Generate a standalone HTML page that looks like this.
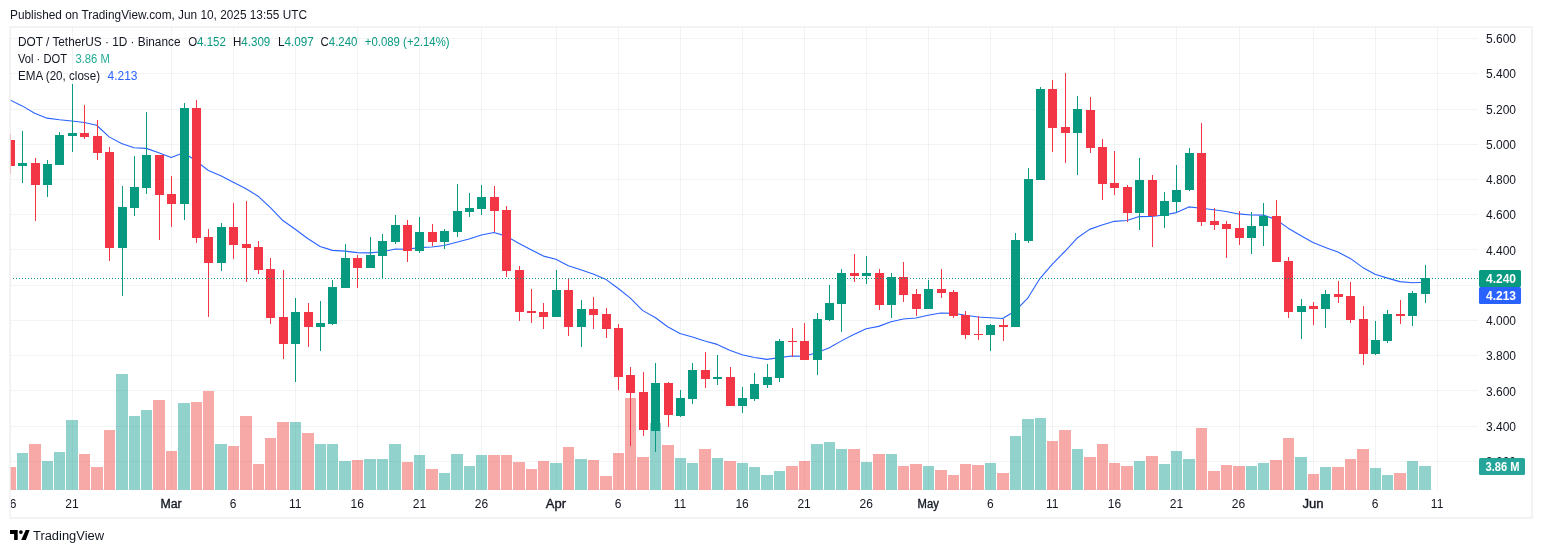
<!DOCTYPE html><html><head><meta charset="utf-8"><style>html,body{margin:0;padding:0;background:#fff;width:1542px;height:553px;overflow:hidden}svg{display:block;will-change:transform}text{font-family:"Liberation Sans", sans-serif}</style></head><body><svg width="1542" height="553" viewBox="0 0 1542 553"><text x="10" y="18.6" font-size="12" fill="#131722" textLength="297" lengthAdjust="spacingAndGlyphs">Published on TradingView.com, Jun 10, 2025 13:55 UTC</text><defs><clipPath id="pane"><rect x="10" y="28" width="1468" height="462"/></clipPath></defs><g shape-rendering="crispEdges"><rect x="10" y="38" width="1468" height="1" fill="rgba(42,46,57,0.06)"/><rect x="10" y="73" width="1468" height="1" fill="rgba(42,46,57,0.06)"/><rect x="10" y="109" width="1468" height="1" fill="rgba(42,46,57,0.06)"/><rect x="10" y="144" width="1468" height="1" fill="rgba(42,46,57,0.06)"/><rect x="10" y="179" width="1468" height="1" fill="rgba(42,46,57,0.06)"/><rect x="10" y="214" width="1468" height="1" fill="rgba(42,46,57,0.06)"/><rect x="10" y="249" width="1468" height="1" fill="rgba(42,46,57,0.06)"/><rect x="10" y="285" width="1468" height="1" fill="rgba(42,46,57,0.06)"/><rect x="10" y="320" width="1468" height="1" fill="rgba(42,46,57,0.06)"/><rect x="10" y="355" width="1468" height="1" fill="rgba(42,46,57,0.06)"/><rect x="10" y="390" width="1468" height="1" fill="rgba(42,46,57,0.06)"/><rect x="10" y="426" width="1468" height="1" fill="rgba(42,46,57,0.06)"/><rect x="10" y="461" width="1468" height="1" fill="rgba(42,46,57,0.06)"/><rect x="10" y="28" width="1" height="462" fill="rgba(42,46,57,0.06)"/><rect x="72" y="28" width="1" height="462" fill="rgba(42,46,57,0.06)"/><rect x="171" y="28" width="1" height="462" fill="rgba(42,46,57,0.06)"/><rect x="233" y="28" width="1" height="462" fill="rgba(42,46,57,0.06)"/><rect x="295" y="28" width="1" height="462" fill="rgba(42,46,57,0.06)"/><rect x="357" y="28" width="1" height="462" fill="rgba(42,46,57,0.06)"/><rect x="419" y="28" width="1" height="462" fill="rgba(42,46,57,0.06)"/><rect x="481" y="28" width="1" height="462" fill="rgba(42,46,57,0.06)"/><rect x="556" y="28" width="1" height="462" fill="rgba(42,46,57,0.06)"/><rect x="618" y="28" width="1" height="462" fill="rgba(42,46,57,0.06)"/><rect x="680" y="28" width="1" height="462" fill="rgba(42,46,57,0.06)"/><rect x="742" y="28" width="1" height="462" fill="rgba(42,46,57,0.06)"/><rect x="804" y="28" width="1" height="462" fill="rgba(42,46,57,0.06)"/><rect x="866" y="28" width="1" height="462" fill="rgba(42,46,57,0.06)"/><rect x="928" y="28" width="1" height="462" fill="rgba(42,46,57,0.06)"/><rect x="990" y="28" width="1" height="462" fill="rgba(42,46,57,0.06)"/><rect x="1052" y="28" width="1" height="462" fill="rgba(42,46,57,0.06)"/><rect x="1114" y="28" width="1" height="462" fill="rgba(42,46,57,0.06)"/><rect x="1176" y="28" width="1" height="462" fill="rgba(42,46,57,0.06)"/><rect x="1239" y="28" width="1" height="462" fill="rgba(42,46,57,0.06)"/><rect x="1313" y="28" width="1" height="462" fill="rgba(42,46,57,0.06)"/><rect x="1375" y="28" width="1" height="462" fill="rgba(42,46,57,0.06)"/><rect x="1437" y="28" width="1" height="462" fill="rgba(42,46,57,0.06)"/></g><g clip-path="url(#pane)" shape-rendering="crispEdges"><rect x="5" y="467" width="11" height="23" fill="rgba(239,83,80,0.5)"/><rect x="17" y="453" width="11" height="37" fill="rgba(38,166,154,0.5)"/><rect x="29" y="444" width="12" height="46" fill="rgba(239,83,80,0.5)"/><rect x="42" y="461" width="11" height="29" fill="rgba(38,166,154,0.5)"/><rect x="54" y="452" width="11" height="38" fill="rgba(38,166,154,0.5)"/><rect x="66" y="420" width="12" height="70" fill="rgba(38,166,154,0.5)"/><rect x="79" y="454" width="11" height="36" fill="rgba(239,83,80,0.5)"/><rect x="91" y="467" width="12" height="23" fill="rgba(239,83,80,0.5)"/><rect x="104" y="430" width="11" height="60" fill="rgba(239,83,80,0.5)"/><rect x="116" y="374" width="12" height="116" fill="rgba(38,166,154,0.5)"/><rect x="129" y="416" width="11" height="74" fill="rgba(38,166,154,0.5)"/><rect x="141" y="410" width="11" height="80" fill="rgba(38,166,154,0.5)"/><rect x="153" y="400" width="12" height="90" fill="rgba(239,83,80,0.5)"/><rect x="166" y="451" width="11" height="39" fill="rgba(239,83,80,0.5)"/><rect x="178" y="403" width="12" height="87" fill="rgba(38,166,154,0.5)"/><rect x="191" y="402" width="11" height="88" fill="rgba(239,83,80,0.5)"/><rect x="203" y="391" width="11" height="99" fill="rgba(239,83,80,0.5)"/><rect x="215" y="444" width="12" height="46" fill="rgba(38,166,154,0.5)"/><rect x="228" y="446" width="11" height="44" fill="rgba(239,83,80,0.5)"/><rect x="240" y="416" width="12" height="74" fill="rgba(239,83,80,0.5)"/><rect x="253" y="464" width="11" height="26" fill="rgba(239,83,80,0.5)"/><rect x="265" y="438" width="11" height="52" fill="rgba(239,83,80,0.5)"/><rect x="277" y="422" width="12" height="68" fill="rgba(239,83,80,0.5)"/><rect x="290" y="422" width="11" height="68" fill="rgba(38,166,154,0.5)"/><rect x="302" y="433" width="12" height="57" fill="rgba(239,83,80,0.5)"/><rect x="315" y="444" width="11" height="46" fill="rgba(38,166,154,0.5)"/><rect x="327" y="444" width="11" height="46" fill="rgba(38,166,154,0.5)"/><rect x="339" y="461" width="12" height="29" fill="rgba(38,166,154,0.5)"/><rect x="352" y="460" width="11" height="30" fill="rgba(239,83,80,0.5)"/><rect x="364" y="459" width="12" height="31" fill="rgba(38,166,154,0.5)"/><rect x="377" y="459" width="11" height="31" fill="rgba(38,166,154,0.5)"/><rect x="389" y="444" width="12" height="46" fill="rgba(38,166,154,0.5)"/><rect x="402" y="462" width="11" height="28" fill="rgba(239,83,80,0.5)"/><rect x="414" y="455" width="11" height="35" fill="rgba(38,166,154,0.5)"/><rect x="426" y="469" width="12" height="21" fill="rgba(239,83,80,0.5)"/><rect x="439" y="473" width="11" height="17" fill="rgba(38,166,154,0.5)"/><rect x="451" y="454" width="12" height="36" fill="rgba(38,166,154,0.5)"/><rect x="464" y="466" width="11" height="24" fill="rgba(38,166,154,0.5)"/><rect x="476" y="455" width="11" height="35" fill="rgba(38,166,154,0.5)"/><rect x="488" y="455" width="12" height="35" fill="rgba(239,83,80,0.5)"/><rect x="501" y="455" width="11" height="35" fill="rgba(239,83,80,0.5)"/><rect x="513" y="462" width="12" height="28" fill="rgba(239,83,80,0.5)"/><rect x="526" y="469" width="11" height="21" fill="rgba(239,83,80,0.5)"/><rect x="538" y="461" width="11" height="29" fill="rgba(239,83,80,0.5)"/><rect x="550" y="463" width="12" height="27" fill="rgba(38,166,154,0.5)"/><rect x="563" y="447" width="11" height="43" fill="rgba(239,83,80,0.5)"/><rect x="575" y="459" width="12" height="31" fill="rgba(38,166,154,0.5)"/><rect x="588" y="460" width="11" height="30" fill="rgba(239,83,80,0.5)"/><rect x="600" y="476" width="12" height="14" fill="rgba(239,83,80,0.5)"/><rect x="613" y="453" width="11" height="37" fill="rgba(239,83,80,0.5)"/><rect x="625" y="398" width="11" height="92" fill="rgba(239,83,80,0.5)"/><rect x="637" y="457" width="12" height="33" fill="rgba(239,83,80,0.5)"/><rect x="650" y="423" width="11" height="67" fill="rgba(38,166,154,0.5)"/><rect x="662" y="445" width="12" height="45" fill="rgba(239,83,80,0.5)"/><rect x="675" y="458" width="11" height="32" fill="rgba(38,166,154,0.5)"/><rect x="687" y="463" width="11" height="27" fill="rgba(38,166,154,0.5)"/><rect x="699" y="449" width="12" height="41" fill="rgba(239,83,80,0.5)"/><rect x="712" y="458" width="11" height="32" fill="rgba(38,166,154,0.5)"/><rect x="724" y="461" width="12" height="29" fill="rgba(239,83,80,0.5)"/><rect x="737" y="463" width="11" height="27" fill="rgba(38,166,154,0.5)"/><rect x="749" y="467" width="11" height="23" fill="rgba(38,166,154,0.5)"/><rect x="761" y="475" width="12" height="15" fill="rgba(38,166,154,0.5)"/><rect x="774" y="471" width="11" height="19" fill="rgba(38,166,154,0.5)"/><rect x="786" y="466" width="12" height="24" fill="rgba(239,83,80,0.5)"/><rect x="799" y="461" width="11" height="29" fill="rgba(239,83,80,0.5)"/><rect x="811" y="444" width="12" height="46" fill="rgba(38,166,154,0.5)"/><rect x="824" y="442" width="11" height="48" fill="rgba(38,166,154,0.5)"/><rect x="836" y="449" width="11" height="41" fill="rgba(38,166,154,0.5)"/><rect x="848" y="449" width="12" height="41" fill="rgba(239,83,80,0.5)"/><rect x="861" y="462" width="11" height="28" fill="rgba(38,166,154,0.5)"/><rect x="873" y="454" width="12" height="36" fill="rgba(239,83,80,0.5)"/><rect x="886" y="454" width="11" height="36" fill="rgba(38,166,154,0.5)"/><rect x="898" y="466" width="11" height="24" fill="rgba(239,83,80,0.5)"/><rect x="910" y="464" width="12" height="26" fill="rgba(239,83,80,0.5)"/><rect x="923" y="466" width="11" height="24" fill="rgba(38,166,154,0.5)"/><rect x="935" y="470" width="12" height="20" fill="rgba(239,83,80,0.5)"/><rect x="948" y="475" width="11" height="15" fill="rgba(239,83,80,0.5)"/><rect x="960" y="464" width="11" height="26" fill="rgba(239,83,80,0.5)"/><rect x="972" y="465" width="12" height="25" fill="rgba(239,83,80,0.5)"/><rect x="985" y="463" width="11" height="27" fill="rgba(38,166,154,0.5)"/><rect x="997" y="473" width="12" height="17" fill="rgba(239,83,80,0.5)"/><rect x="1010" y="436" width="11" height="54" fill="rgba(38,166,154,0.5)"/><rect x="1022" y="419" width="12" height="71" fill="rgba(38,166,154,0.5)"/><rect x="1035" y="418" width="11" height="72" fill="rgba(38,166,154,0.5)"/><rect x="1047" y="441" width="11" height="49" fill="rgba(239,83,80,0.5)"/><rect x="1059" y="430" width="12" height="60" fill="rgba(239,83,80,0.5)"/><rect x="1072" y="449" width="11" height="41" fill="rgba(38,166,154,0.5)"/><rect x="1084" y="457" width="12" height="33" fill="rgba(239,83,80,0.5)"/><rect x="1097" y="444" width="11" height="46" fill="rgba(239,83,80,0.5)"/><rect x="1109" y="463" width="11" height="27" fill="rgba(239,83,80,0.5)"/><rect x="1121" y="466" width="12" height="24" fill="rgba(239,83,80,0.5)"/><rect x="1134" y="461" width="11" height="29" fill="rgba(38,166,154,0.5)"/><rect x="1146" y="456" width="12" height="34" fill="rgba(239,83,80,0.5)"/><rect x="1159" y="464" width="11" height="26" fill="rgba(38,166,154,0.5)"/><rect x="1171" y="451" width="11" height="39" fill="rgba(38,166,154,0.5)"/><rect x="1183" y="459" width="12" height="31" fill="rgba(38,166,154,0.5)"/><rect x="1196" y="428" width="11" height="62" fill="rgba(239,83,80,0.5)"/><rect x="1208" y="471" width="12" height="19" fill="rgba(239,83,80,0.5)"/><rect x="1221" y="465" width="11" height="25" fill="rgba(239,83,80,0.5)"/><rect x="1233" y="466" width="12" height="24" fill="rgba(239,83,80,0.5)"/><rect x="1246" y="466" width="11" height="24" fill="rgba(38,166,154,0.5)"/><rect x="1258" y="463" width="11" height="27" fill="rgba(38,166,154,0.5)"/><rect x="1270" y="460" width="12" height="30" fill="rgba(239,83,80,0.5)"/><rect x="1283" y="438" width="11" height="52" fill="rgba(239,83,80,0.5)"/><rect x="1295" y="457" width="12" height="33" fill="rgba(38,166,154,0.5)"/><rect x="1308" y="474" width="11" height="16" fill="rgba(239,83,80,0.5)"/><rect x="1320" y="467" width="11" height="23" fill="rgba(38,166,154,0.5)"/><rect x="1332" y="467" width="12" height="23" fill="rgba(239,83,80,0.5)"/><rect x="1345" y="459" width="11" height="31" fill="rgba(239,83,80,0.5)"/><rect x="1357" y="449" width="12" height="41" fill="rgba(239,83,80,0.5)"/><rect x="1370" y="468" width="11" height="22" fill="rgba(38,166,154,0.5)"/><rect x="1382" y="475" width="11" height="15" fill="rgba(38,166,154,0.5)"/><rect x="1394" y="473" width="12" height="17" fill="rgba(239,83,80,0.5)"/><rect x="1407" y="461" width="11" height="29" fill="rgba(38,166,154,0.5)"/><rect x="1419" y="466" width="12" height="24" fill="rgba(38,166,154,0.5)"/></g><g clip-path="url(#pane)"><polyline points="9.80,99.89 22.22,105.90 34.63,113.34 47.04,118.17 59.45,119.77 71.86,121.03 84.27,122.45 96.68,125.27 109.09,136.86 121.50,143.54 133.92,147.68 146.33,148.38 158.74,152.72 171.15,157.51 183.56,152.80 195.97,160.82 208.38,170.45 220.79,175.84 233.21,182.33 245.62,188.49 258.03,196.16 270.44,207.66 282.85,220.55 295.26,229.26 307.67,238.48 320.08,246.53 332.50,250.38 344.91,251.11 357.32,252.62 369.73,252.85 382.14,251.72 394.55,249.17 406.96,249.25 419.37,247.61 431.78,246.98 444.20,245.46 456.61,242.18 469.02,238.92 481.43,234.93 493.84,232.55 506.25,236.12 518.66,243.25 531.07,249.80 543.49,256.10 555.90,259.33 568.31,265.68 580.72,269.81 593.13,274.02 605.54,279.16 617.95,288.29 630.36,298.16 642.78,310.62 655.19,317.52 667.60,326.80 680.01,333.58 692.42,337.05 704.83,340.95 717.24,344.38 729.65,350.16 742.06,354.71 754.48,357.50 766.89,359.36 779.30,357.61 791.71,356.03 804.12,356.31 816.53,352.76 828.94,348.02 841.35,340.87 853.77,334.60 866.18,328.73 878.59,326.38 891.00,321.68 903.41,319.04 915.82,317.99 928.23,315.23 940.64,313.02 953.06,313.20 965.47,315.19 977.88,316.98 990.29,317.74 1002.70,318.53 1015.11,311.05 1027.52,298.47 1039.93,278.52 1052.34,264.09 1064.76,251.51 1077.17,238.03 1089.58,229.36 1101.99,224.95 1114.40,221.33 1126.81,220.45 1139.22,216.59 1151.63,216.44 1164.05,214.97 1176.46,212.59 1188.87,206.92 1201.28,208.26 1213.69,209.76 1226.10,211.50 1238.51,213.92 1250.92,214.98 1263.34,215.08 1275.75,219.45 1288.16,228.17 1300.57,235.58 1312.98,242.48 1325.39,247.39 1337.80,252.02 1350.21,258.39 1362.62,267.40 1375.04,274.32 1387.45,278.10 1399.86,281.61 1412.27,282.70 1424.68,282.25" fill="none" stroke="#2962ff" stroke-width="1.1" stroke-linejoin="round"/></g><g clip-path="url(#pane)" shape-rendering="crispEdges"><rect x="10" y="134" width="1" height="40" fill="#f23645"/><rect x="6" y="140" width="9" height="26" fill="#f23645"/><rect x="22" y="131" width="1" height="52" fill="#089981"/><rect x="18" y="163" width="9" height="3" fill="#089981"/><rect x="35" y="158" width="1" height="63" fill="#f23645"/><rect x="31" y="163" width="9" height="22" fill="#f23645"/><rect x="47" y="160" width="1" height="37" fill="#089981"/><rect x="43" y="164" width="9" height="21" fill="#089981"/><rect x="59" y="132" width="1" height="33" fill="#089981"/><rect x="55" y="135" width="9" height="30" fill="#089981"/><rect x="72" y="84" width="1" height="68" fill="#089981"/><rect x="68" y="133" width="9" height="3" fill="#089981"/><rect x="84" y="105" width="1" height="34" fill="#f23645"/><rect x="80" y="133" width="9" height="4" fill="#f23645"/><rect x="97" y="120" width="1" height="40" fill="#f23645"/><rect x="93" y="136" width="9" height="17" fill="#f23645"/><rect x="109" y="147" width="1" height="114" fill="#f23645"/><rect x="105" y="152" width="9" height="96" fill="#f23645"/><rect x="122" y="186" width="1" height="110" fill="#089981"/><rect x="118" y="207" width="9" height="41" fill="#089981"/><rect x="134" y="156" width="1" height="60" fill="#089981"/><rect x="130" y="187" width="9" height="21" fill="#089981"/><rect x="146" y="112" width="1" height="82" fill="#089981"/><rect x="142" y="155" width="9" height="33" fill="#089981"/><rect x="159" y="155" width="1" height="85" fill="#f23645"/><rect x="155" y="155" width="9" height="40" fill="#f23645"/><rect x="171" y="176" width="1" height="51" fill="#f23645"/><rect x="167" y="194" width="9" height="10" fill="#f23645"/><rect x="184" y="103" width="1" height="117" fill="#089981"/><rect x="180" y="108" width="9" height="96" fill="#089981"/><rect x="196" y="100" width="1" height="143" fill="#f23645"/><rect x="192" y="108" width="9" height="130" fill="#f23645"/><rect x="208" y="229" width="1" height="88" fill="#f23645"/><rect x="204" y="237" width="9" height="26" fill="#f23645"/><rect x="221" y="223" width="1" height="48" fill="#089981"/><rect x="217" y="227" width="9" height="36" fill="#089981"/><rect x="233" y="203" width="1" height="56" fill="#f23645"/><rect x="229" y="227" width="9" height="18" fill="#f23645"/><rect x="246" y="201" width="1" height="81" fill="#f23645"/><rect x="242" y="244" width="9" height="4" fill="#f23645"/><rect x="258" y="241" width="1" height="33" fill="#f23645"/><rect x="254" y="247" width="9" height="23" fill="#f23645"/><rect x="270" y="258" width="1" height="66" fill="#f23645"/><rect x="266" y="269" width="9" height="49" fill="#f23645"/><rect x="283" y="270" width="1" height="89" fill="#f23645"/><rect x="279" y="317" width="9" height="27" fill="#f23645"/><rect x="295" y="298" width="1" height="84" fill="#089981"/><rect x="291" y="312" width="9" height="32" fill="#089981"/><rect x="308" y="303" width="1" height="44" fill="#f23645"/><rect x="304" y="312" width="9" height="15" fill="#f23645"/><rect x="320" y="301" width="1" height="50" fill="#089981"/><rect x="316" y="323" width="9" height="4" fill="#089981"/><rect x="332" y="280" width="1" height="45" fill="#089981"/><rect x="328" y="287" width="9" height="37" fill="#089981"/><rect x="345" y="244" width="1" height="44" fill="#089981"/><rect x="341" y="258" width="9" height="30" fill="#089981"/><rect x="357" y="255" width="1" height="33" fill="#f23645"/><rect x="353" y="258" width="9" height="10" fill="#f23645"/><rect x="370" y="237" width="1" height="31" fill="#089981"/><rect x="366" y="255" width="9" height="13" fill="#089981"/><rect x="382" y="234" width="1" height="45" fill="#089981"/><rect x="378" y="241" width="9" height="15" fill="#089981"/><rect x="395" y="215" width="1" height="29" fill="#089981"/><rect x="391" y="225" width="9" height="17" fill="#089981"/><rect x="407" y="220" width="1" height="42" fill="#f23645"/><rect x="403" y="225" width="9" height="26" fill="#f23645"/><rect x="419" y="217" width="1" height="36" fill="#089981"/><rect x="415" y="232" width="9" height="19" fill="#089981"/><rect x="432" y="224" width="1" height="22" fill="#f23645"/><rect x="428" y="232" width="9" height="10" fill="#f23645"/><rect x="444" y="229" width="1" height="20" fill="#089981"/><rect x="440" y="231" width="9" height="11" fill="#089981"/><rect x="457" y="184" width="1" height="53" fill="#089981"/><rect x="453" y="211" width="9" height="21" fill="#089981"/><rect x="469" y="193" width="1" height="24" fill="#089981"/><rect x="465" y="208" width="9" height="4" fill="#089981"/><rect x="481" y="185" width="1" height="30" fill="#089981"/><rect x="477" y="197" width="9" height="12" fill="#089981"/><rect x="494" y="186" width="1" height="46" fill="#f23645"/><rect x="490" y="197" width="9" height="14" fill="#f23645"/><rect x="506" y="206" width="1" height="71" fill="#f23645"/><rect x="502" y="210" width="9" height="61" fill="#f23645"/><rect x="519" y="266" width="1" height="55" fill="#f23645"/><rect x="515" y="270" width="9" height="42" fill="#f23645"/><rect x="531" y="289" width="1" height="34" fill="#f23645"/><rect x="527" y="311" width="9" height="2" fill="#f23645"/><rect x="543" y="303" width="1" height="26" fill="#f23645"/><rect x="539" y="312" width="9" height="5" fill="#f23645"/><rect x="556" y="270" width="1" height="47" fill="#089981"/><rect x="552" y="290" width="9" height="27" fill="#089981"/><rect x="568" y="278" width="1" height="58" fill="#f23645"/><rect x="564" y="290" width="9" height="37" fill="#f23645"/><rect x="581" y="300" width="1" height="47" fill="#089981"/><rect x="577" y="309" width="9" height="18" fill="#089981"/><rect x="593" y="297" width="1" height="32" fill="#f23645"/><rect x="589" y="309" width="9" height="6" fill="#f23645"/><rect x="606" y="308" width="1" height="30" fill="#f23645"/><rect x="602" y="314" width="9" height="15" fill="#f23645"/><rect x="618" y="324" width="1" height="66" fill="#f23645"/><rect x="614" y="328" width="9" height="49" fill="#f23645"/><rect x="630" y="367" width="1" height="79" fill="#f23645"/><rect x="626" y="375" width="9" height="18" fill="#f23645"/><rect x="643" y="372" width="1" height="64" fill="#f23645"/><rect x="639" y="392" width="9" height="38" fill="#f23645"/><rect x="655" y="363" width="1" height="89" fill="#089981"/><rect x="651" y="383" width="9" height="48" fill="#089981"/><rect x="668" y="382" width="1" height="45" fill="#f23645"/><rect x="664" y="383" width="9" height="32" fill="#f23645"/><rect x="680" y="390" width="1" height="27" fill="#089981"/><rect x="676" y="398" width="9" height="18" fill="#089981"/><rect x="692" y="363" width="1" height="41" fill="#089981"/><rect x="688" y="370" width="9" height="29" fill="#089981"/><rect x="705" y="352" width="1" height="36" fill="#f23645"/><rect x="701" y="370" width="9" height="9" fill="#f23645"/><rect x="717" y="355" width="1" height="30" fill="#089981"/><rect x="713" y="377" width="9" height="2" fill="#089981"/><rect x="730" y="367" width="1" height="39" fill="#f23645"/><rect x="726" y="377" width="9" height="29" fill="#f23645"/><rect x="742" y="387" width="1" height="26" fill="#089981"/><rect x="738" y="398" width="9" height="8" fill="#089981"/><rect x="754" y="373" width="1" height="28" fill="#089981"/><rect x="750" y="384" width="9" height="15" fill="#089981"/><rect x="767" y="364" width="1" height="24" fill="#089981"/><rect x="763" y="377" width="9" height="8" fill="#089981"/><rect x="779" y="339" width="1" height="43" fill="#089981"/><rect x="775" y="341" width="9" height="37" fill="#089981"/><rect x="792" y="328" width="1" height="29" fill="#f23645"/><rect x="788" y="341" width="9" height="1" fill="#f23645"/><rect x="804" y="323" width="1" height="37" fill="#f23645"/><rect x="800" y="341" width="9" height="19" fill="#f23645"/><rect x="817" y="313" width="1" height="62" fill="#089981"/><rect x="813" y="319" width="9" height="41" fill="#089981"/><rect x="829" y="285" width="1" height="36" fill="#089981"/><rect x="825" y="303" width="9" height="17" fill="#089981"/><rect x="841" y="269" width="1" height="63" fill="#089981"/><rect x="837" y="273" width="9" height="31" fill="#089981"/><rect x="854" y="254" width="1" height="28" fill="#f23645"/><rect x="850" y="273" width="9" height="3" fill="#f23645"/><rect x="866" y="256" width="1" height="28" fill="#089981"/><rect x="862" y="273" width="9" height="3" fill="#089981"/><rect x="879" y="269" width="1" height="41" fill="#f23645"/><rect x="875" y="273" width="9" height="32" fill="#f23645"/><rect x="891" y="273" width="1" height="45" fill="#089981"/><rect x="887" y="277" width="9" height="28" fill="#089981"/><rect x="903" y="262" width="1" height="40" fill="#f23645"/><rect x="899" y="277" width="9" height="18" fill="#f23645"/><rect x="916" y="289" width="1" height="27" fill="#f23645"/><rect x="912" y="294" width="9" height="15" fill="#f23645"/><rect x="928" y="280" width="1" height="29" fill="#089981"/><rect x="924" y="289" width="9" height="20" fill="#089981"/><rect x="941" y="269" width="1" height="29" fill="#f23645"/><rect x="937" y="289" width="9" height="4" fill="#f23645"/><rect x="953" y="290" width="1" height="28" fill="#f23645"/><rect x="949" y="292" width="9" height="24" fill="#f23645"/><rect x="965" y="311" width="1" height="28" fill="#f23645"/><rect x="961" y="315" width="9" height="20" fill="#f23645"/><rect x="978" y="316" width="1" height="24" fill="#f23645"/><rect x="974" y="334" width="9" height="1" fill="#f23645"/><rect x="990" y="324" width="1" height="27" fill="#089981"/><rect x="986" y="325" width="9" height="10" fill="#089981"/><rect x="1003" y="319" width="1" height="22" fill="#f23645"/><rect x="999" y="325" width="9" height="2" fill="#f23645"/><rect x="1015" y="233" width="1" height="94" fill="#089981"/><rect x="1011" y="240" width="9" height="87" fill="#089981"/><rect x="1028" y="168" width="1" height="75" fill="#089981"/><rect x="1024" y="179" width="9" height="62" fill="#089981"/><rect x="1040" y="87" width="1" height="93" fill="#089981"/><rect x="1036" y="89" width="9" height="91" fill="#089981"/><rect x="1052" y="80" width="1" height="72" fill="#f23645"/><rect x="1048" y="89" width="9" height="39" fill="#f23645"/><rect x="1065" y="73" width="1" height="90" fill="#f23645"/><rect x="1061" y="127" width="9" height="6" fill="#f23645"/><rect x="1077" y="96" width="1" height="79" fill="#089981"/><rect x="1073" y="109" width="9" height="24" fill="#089981"/><rect x="1090" y="97" width="1" height="56" fill="#f23645"/><rect x="1086" y="110" width="9" height="38" fill="#f23645"/><rect x="1102" y="139" width="1" height="61" fill="#f23645"/><rect x="1098" y="147" width="9" height="37" fill="#f23645"/><rect x="1114" y="151" width="1" height="44" fill="#f23645"/><rect x="1110" y="183" width="9" height="5" fill="#f23645"/><rect x="1127" y="185" width="1" height="37" fill="#f23645"/><rect x="1123" y="187" width="9" height="26" fill="#f23645"/><rect x="1139" y="158" width="1" height="72" fill="#089981"/><rect x="1135" y="180" width="9" height="33" fill="#089981"/><rect x="1152" y="175" width="1" height="72" fill="#f23645"/><rect x="1148" y="180" width="9" height="36" fill="#f23645"/><rect x="1164" y="192" width="1" height="36" fill="#089981"/><rect x="1160" y="201" width="9" height="15" fill="#089981"/><rect x="1176" y="165" width="1" height="47" fill="#089981"/><rect x="1172" y="190" width="9" height="12" fill="#089981"/><rect x="1189" y="148" width="1" height="43" fill="#089981"/><rect x="1185" y="153" width="9" height="37" fill="#089981"/><rect x="1201" y="123" width="1" height="103" fill="#f23645"/><rect x="1197" y="153" width="9" height="69" fill="#f23645"/><rect x="1214" y="208" width="1" height="22" fill="#f23645"/><rect x="1210" y="221" width="9" height="4" fill="#f23645"/><rect x="1226" y="221" width="1" height="37" fill="#f23645"/><rect x="1222" y="224" width="9" height="5" fill="#f23645"/><rect x="1239" y="211" width="1" height="34" fill="#f23645"/><rect x="1235" y="228" width="9" height="10" fill="#f23645"/><rect x="1251" y="212" width="1" height="42" fill="#089981"/><rect x="1247" y="226" width="9" height="12" fill="#089981"/><rect x="1263" y="203" width="1" height="43" fill="#089981"/><rect x="1259" y="216" width="9" height="10" fill="#089981"/><rect x="1276" y="200" width="1" height="62" fill="#f23645"/><rect x="1272" y="216" width="9" height="46" fill="#f23645"/><rect x="1288" y="257" width="1" height="61" fill="#f23645"/><rect x="1284" y="261" width="9" height="51" fill="#f23645"/><rect x="1301" y="299" width="1" height="40" fill="#089981"/><rect x="1297" y="306" width="9" height="6" fill="#089981"/><rect x="1313" y="302" width="1" height="23" fill="#f23645"/><rect x="1309" y="306" width="9" height="3" fill="#f23645"/><rect x="1325" y="290" width="1" height="38" fill="#089981"/><rect x="1321" y="294" width="9" height="15" fill="#089981"/><rect x="1338" y="281" width="1" height="22" fill="#f23645"/><rect x="1334" y="294" width="9" height="3" fill="#f23645"/><rect x="1350" y="282" width="1" height="41" fill="#f23645"/><rect x="1346" y="296" width="9" height="24" fill="#f23645"/><rect x="1363" y="306" width="1" height="59" fill="#f23645"/><rect x="1359" y="319" width="9" height="35" fill="#f23645"/><rect x="1375" y="321" width="1" height="34" fill="#089981"/><rect x="1371" y="340" width="9" height="14" fill="#089981"/><rect x="1387" y="310" width="1" height="33" fill="#089981"/><rect x="1383" y="314" width="9" height="27" fill="#089981"/><rect x="1400" y="300" width="1" height="24" fill="#f23645"/><rect x="1396" y="314" width="9" height="2" fill="#f23645"/><rect x="1412" y="291" width="1" height="35" fill="#089981"/><rect x="1408" y="293" width="9" height="23" fill="#089981"/><rect x="1425" y="265" width="1" height="38" fill="#089981"/><rect x="1421" y="278" width="9" height="16" fill="#089981"/></g><line x1="13" y1="278.5" x2="1478" y2="278.5" stroke="#089981" stroke-width="1" stroke-dasharray="1 2" shape-rendering="crispEdges"/><g shape-rendering="crispEdges"><rect x="9" y="26" width="1524" height="1" fill="rgba(0,0,0,0.04)"/><rect x="9" y="518" width="1524" height="1" fill="rgba(0,0,0,0.04)"/><rect x="9" y="27" width="1" height="491" fill="rgba(0,0,0,0.04)"/><rect x="1532" y="27" width="1" height="491" fill="rgba(0,0,0,0.04)"/><rect x="10" y="27" width="1522" height="1" fill="rgba(0,0,0,0.055)"/><rect x="10" y="517" width="1522" height="1" fill="rgba(0,0,0,0.055)"/><rect x="10" y="28" width="1" height="489" fill="rgba(240,240,240,0.75)"/><rect x="1531" y="28" width="1" height="489" fill="rgba(0,0,0,0.055)"/></g><text x="18" y="46" font-size="12" fill="#131722" textLength="162.5" lengthAdjust="spacingAndGlyphs">DOT / TetherUS · 1D · Binance</text><text x="188.2" y="46" font-size="12" fill="#131722" textLength="37.6" lengthAdjust="spacingAndGlyphs">O<tspan fill="#089981">4.152</tspan></text><text x="233.0" y="46" font-size="12" fill="#131722" textLength="37.3" lengthAdjust="spacingAndGlyphs">H<tspan fill="#089981">4.309</tspan></text><text x="278.0" y="46" font-size="12" fill="#131722" textLength="35.9" lengthAdjust="spacingAndGlyphs">L<tspan fill="#089981">4.097</tspan></text><text x="320.6" y="46" font-size="12" fill="#131722" textLength="36.8" lengthAdjust="spacingAndGlyphs">C<tspan fill="#089981">4.240</tspan></text><text x="364.8" y="46" font-size="12" fill="#089981" textLength="84.8" lengthAdjust="spacingAndGlyphs">+0.089 (+2.14%)</text><text x="18" y="63" font-size="12" fill="#131722" textLength="49" lengthAdjust="spacingAndGlyphs">Vol · DOT</text><text x="75.5" y="63" font-size="12" fill="#22ab94" textLength="34.3" lengthAdjust="spacingAndGlyphs">3.86 M</text><text x="18" y="80" font-size="12" fill="#131722" textLength="82" lengthAdjust="spacingAndGlyphs">EMA (20, close)</text><text x="107.5" y="80" font-size="12" fill="#2962ff">4.213</text><text x="1486" y="43.2" font-size="12" fill="#131722">5.600</text><text x="1486" y="78.4" font-size="12" fill="#131722">5.400</text><text x="1486" y="113.6" font-size="12" fill="#131722">5.200</text><text x="1486" y="148.9" font-size="12" fill="#131722">5.000</text><text x="1486" y="184.1" font-size="12" fill="#131722">4.800</text><text x="1486" y="219.3" font-size="12" fill="#131722">4.600</text><text x="1486" y="254.6" font-size="12" fill="#131722">4.400</text><text x="1486" y="289.8" font-size="12" fill="#131722">4.200</text><text x="1486" y="325.0" font-size="12" fill="#131722">4.000</text><text x="1486" y="360.2" font-size="12" fill="#131722">3.800</text><text x="1486" y="395.5" font-size="12" fill="#131722">3.600</text><text x="1486" y="430.7" font-size="12" fill="#131722">3.400</text><text x="1486" y="465.9" font-size="12" fill="#131722">3.200</text><rect x="1479" y="270" width="42" height="17" rx="1.5" fill="#089981"/><text x="1486" y="283" font-size="12" font-weight="bold" fill="#fff">4.240</text><rect x="1479" y="287" width="42" height="17" rx="1.5" fill="#2962ff"/><text x="1486" y="300" font-size="12" font-weight="bold" fill="#fff">4.213</text><rect x="1479" y="458" width="46" height="17" rx="1.5" fill="#26a69a"/><text x="1485.5" y="471" font-size="12" font-weight="bold" fill="#fff" textLength="34" lengthAdjust="spacingAndGlyphs">3.86 M</text><defs><clipPath id="xaxis"><rect x="11" y="490" width="1520" height="27"/></clipPath></defs><g clip-path="url(#xaxis)"><text x="9.8" y="508" font-size="12" text-anchor="middle" fill="#131722">16</text><text x="71.9" y="508" font-size="12" text-anchor="middle" fill="#131722">21</text><text x="160.5" y="508" font-size="12" fill="#131722" stroke="#131722" stroke-width="0.35" textLength="21.2" lengthAdjust="spacingAndGlyphs">Mar</text><text x="233.2" y="508" font-size="12" text-anchor="middle" fill="#131722">6</text><text x="295.3" y="508" font-size="12" text-anchor="middle" fill="#131722">11</text><text x="357.3" y="508" font-size="12" text-anchor="middle" fill="#131722">16</text><text x="419.4" y="508" font-size="12" text-anchor="middle" fill="#131722">21</text><text x="481.4" y="508" font-size="12" text-anchor="middle" fill="#131722">26</text><text x="545.8" y="508" font-size="12" fill="#131722" stroke="#131722" stroke-width="0.35" textLength="20.2" lengthAdjust="spacingAndGlyphs">Apr</text><text x="618.0" y="508" font-size="12" text-anchor="middle" fill="#131722">6</text><text x="680.0" y="508" font-size="12" text-anchor="middle" fill="#131722">11</text><text x="742.1" y="508" font-size="12" text-anchor="middle" fill="#131722">16</text><text x="804.1" y="508" font-size="12" text-anchor="middle" fill="#131722">21</text><text x="866.2" y="508" font-size="12" text-anchor="middle" fill="#131722">26</text><text x="917.6" y="508" font-size="12" fill="#131722" stroke="#131722" stroke-width="0.35" textLength="21.2" lengthAdjust="spacingAndGlyphs">May</text><text x="990.3" y="508" font-size="12" text-anchor="middle" fill="#131722">6</text><text x="1052.3" y="508" font-size="12" text-anchor="middle" fill="#131722">11</text><text x="1114.4" y="508" font-size="12" text-anchor="middle" fill="#131722">16</text><text x="1176.5" y="508" font-size="12" text-anchor="middle" fill="#131722">21</text><text x="1238.5" y="508" font-size="12" text-anchor="middle" fill="#131722">26</text><text x="1302.4" y="508" font-size="12" fill="#131722" stroke="#131722" stroke-width="0.35" textLength="21.2" lengthAdjust="spacingAndGlyphs">Jun</text><text x="1375.0" y="508" font-size="12" text-anchor="middle" fill="#131722">6</text><text x="1437.1" y="508" font-size="12" text-anchor="middle" fill="#131722">11</text></g><g fill="#000"><path d="M10 530H17.7V540H14.1V534H10Z"/><circle cx="20.9" cy="532.1" r="1.85"/><path d="M25.7 530H29.6L25.9 540H21.2Z"/></g><text x="33" y="540" font-size="12.5" fill="#131722" textLength="71" lengthAdjust="spacingAndGlyphs">TradingView</text></svg></body></html>
